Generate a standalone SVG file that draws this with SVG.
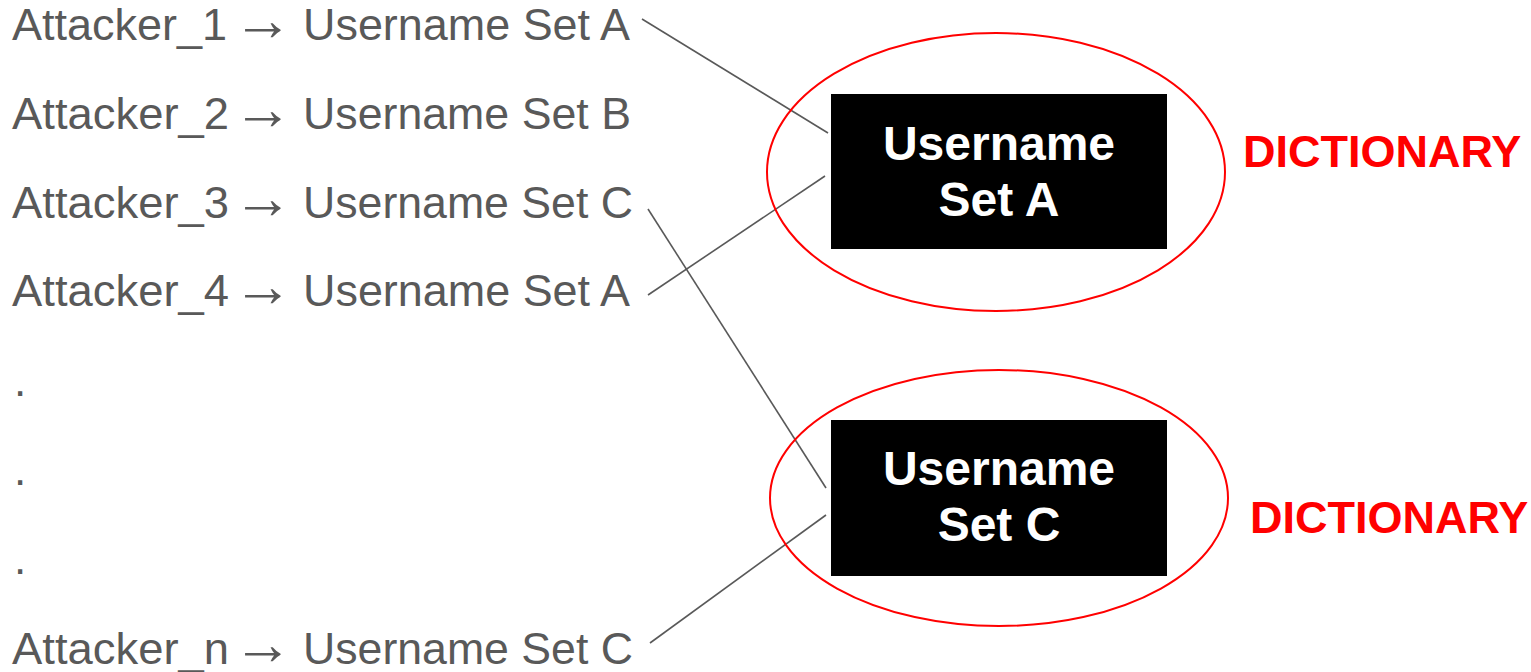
<svg xmlns="http://www.w3.org/2000/svg" width="1531" height="672" viewBox="0 0 1531 672">
<style>
.att{font-family:"Liberation Sans",Arial,sans-serif;font-size:44px;fill:#595959}
.arr{font-size:60px}
.box{fill:#000}
.bt{font-family:"Liberation Sans",Arial,sans-serif;font-size:48px;font-weight:bold;fill:#fff;text-anchor:middle}
.dict{font-family:"Liberation Sans",Arial,sans-serif;font-size:45px;font-weight:bold;fill:#ff0000}
.ell{fill:none;stroke:#ff0000;stroke-width:2}
.con{stroke:#595959;stroke-width:1.6;fill:none}
</style>
<rect width="1531" height="672" fill="#fff"/>
<g id="attackers">
<text class="att" y="40"><tspan x="12" textLength="215" lengthAdjust="spacingAndGlyphs">Attacker_1</tspan><tspan class="arr" x="233">→</tspan><tspan x="303" textLength="327" lengthAdjust="spacingAndGlyphs">Username Set A</tspan></text>
<text class="att" y="129"><tspan x="12" textLength="217" lengthAdjust="spacingAndGlyphs">Attacker_2</tspan><tspan class="arr" x="233">→</tspan><tspan x="303" textLength="328" lengthAdjust="spacingAndGlyphs">Username Set B</tspan></text>
<text class="att" y="218"><tspan x="12" textLength="217" lengthAdjust="spacingAndGlyphs">Attacker_3</tspan><tspan class="arr" x="233">→</tspan><tspan x="303" textLength="330" lengthAdjust="spacingAndGlyphs">Username Set C</tspan></text>
<text class="att" y="306"><tspan x="12" textLength="217" lengthAdjust="spacingAndGlyphs">Attacker_4</tspan><tspan class="arr" x="233">→</tspan><tspan x="303" textLength="327" lengthAdjust="spacingAndGlyphs">Username Set A</tspan></text>
<text class="att" x="14" y="396">.</text>
<text class="att" x="14" y="485">.</text>
<text class="att" x="14" y="574">.</text>
<text class="att" y="664"><tspan x="12" textLength="217" lengthAdjust="spacingAndGlyphs">Attacker_n</tspan><tspan class="arr" x="233">→</tspan><tspan x="303" textLength="330" lengthAdjust="spacingAndGlyphs">Username Set C</tspan></text>
</g>
<g id="connectors">
<line class="con" x1="642" y1="19" x2="828" y2="133"/>
<line class="con" x1="648" y1="295" x2="825" y2="176"/>
<line class="con" x1="648" y1="209" x2="826" y2="488"/>
<line class="con" x1="650" y1="643" x2="826" y2="515"/>
</g>
<g id="setA">
<ellipse class="ell" cx="996" cy="172" rx="229" ry="139"/>
<rect class="box" x="831" y="94" width="336" height="155"/>
<text class="bt" x="999" y="160">Username</text>
<text class="bt" x="999" y="216">Set A</text>
<text class="dict" x="1243" y="167">DICTIONARY</text>
</g>
<g id="setC">
<ellipse class="ell" cx="999" cy="498" rx="229" ry="128"/>
<rect class="box" x="831" y="420" width="336" height="156"/>
<text class="bt" x="999" y="485">Username</text>
<text class="bt" x="999" y="541">Set C</text>
<text class="dict" x="1250" y="533">DICTIONARY</text>
</g>
</svg>
